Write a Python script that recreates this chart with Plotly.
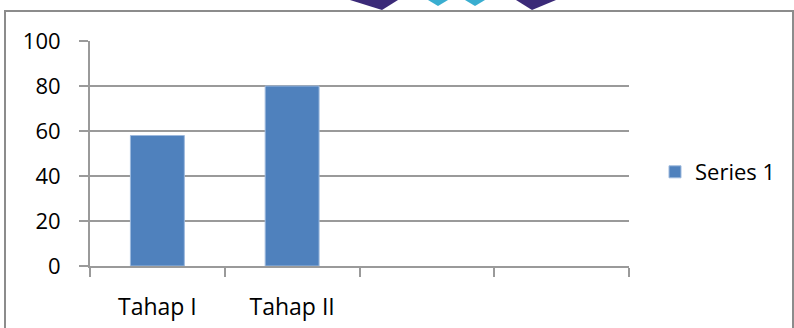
import plotly.graph_objects as go

categories = ["Tahap I", "Tahap II", " ", "  "]
series1 = [58, 80, None, None]
series_name = "Series 1"
y_ticks = [0, 20, 40, 60, 80, 100]

W, H = 794, 328
L, R, T, B = 90, 165, 41, 62
PW, PH = W - L - R, H - T - B

def px(x):
    return (x - L) / PW

def py(y):
    return (H - B - y) / PH

font = "Open Sans"
fsize = 22
grid = "#9a9a9a"

fig = go.Figure()
fig.add_trace(go.Bar(
    x=categories, y=series1, name=series_name, width=0.4,
    marker=dict(color="#4F81BD", line=dict(color="#9DB9DD", width=1)),
))

shapes = [
    # outer chart border
    dict(type="rect", xref="paper", yref="paper",
         x0=px(5), x1=px(793), y0=py(340), y1=py(11),
         line=dict(color="#8c8c8c", width=2), fillcolor="rgba(0,0,0,0)", layer="below"),
]
# decorative header triangles peeking above the border
tri = [
    ((350, 0), (398, 0), (382, 10), "#3b2a78"),
    ((428, 0), (448, 0), (438, 6), "#3aaed0"),
    ((465, 0), (485, 0), (475, 6), "#3aaed0"),
    ((516, 0), (556, 0), (532, 10), "#3b2a78"),
]
for a, b, c, col in tri:
    path = "M {} {} L {} {} L {} {} Z".format(px(a[0]), py(a[1]), px(b[0]), py(b[1]), px(c[0]), py(c[1]))
    shapes.append(dict(type="path", xref="paper", yref="paper", path=path,
                       fillcolor=col, line=dict(width=0)))

fig.update_layout(
    width=W, height=H,
    margin=dict(l=L, r=R, t=T, b=B, pad=0, autoexpand=False),
    paper_bgcolor="white", plot_bgcolor="white",
    font=dict(family=font, size=fsize, color="#000000"),
    showlegend=True,
    legend=dict(x=px(655), y=py(172), xanchor="left", yanchor="middle",
                font=dict(family=font, size=fsize, color="#000"),
                bgcolor="rgba(0,0,0,0)", itemwidth=30),
    shapes=shapes,
    bargap=0.6,
)
fig.update_xaxes(
    type="category", range=[-0.5, 3.5], automargin=False,
    tickson="boundaries", ticks="outside", ticklen=9, tickwidth=2, tickcolor=grid,
    showline=True, linecolor=grid, linewidth=2, showgrid=False,
    ticklabelstandoff=19,
    tickfont=dict(family=font, size=fsize + 1, color="#000"),
)
fig.update_yaxes(
    range=[0, 100], tickvals=y_ticks, ticks="outside", ticklen=9, tickwidth=2, tickcolor=grid,
    showline=True, linecolor=grid, linewidth=2, automargin=False,
    showgrid=True, gridcolor=grid, gridwidth=2, zeroline=False,
    ticklabelstandoff=14,
    tickfont=dict(family=font, size=fsize, color="#000"),
)
fig.write_html("out.html")
